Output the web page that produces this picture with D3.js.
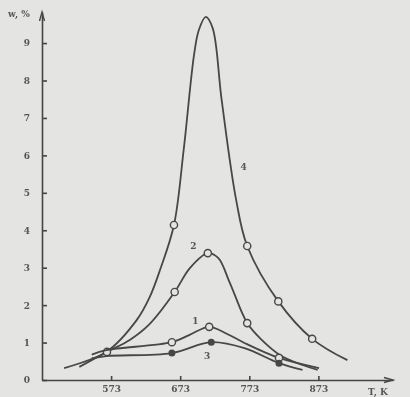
<!DOCTYPE html>
<html>
<head>
<meta charset="utf-8">
<script src="https://cdn.jsdelivr.net/npm/d3@7"></script>
<style>
    html, body { margin: 0; padding: 0; background: #e4e4e2; }
    svg { display: block; }
    .axis text { font-family: 'DejaVu Serif', serif; font-size: 9px; font-weight: bold; fill: #555; }
    .axis path, .axis line { stroke: #444; stroke-width: 1.6; }
</style>
</head>
<body>
<svg width="410" height="397"></svg>
<script>
// temperatures (K) and values, one pair of arrays per curve
const xTicks = [573, 673, 773, 873]
const yTicks = [0, 1, 2, 3, 4, 5, 6, 7, 8, 9]

const curve4T = [505, 566, 610, 629, 644, 664, 678, 693, 700, 710, 720, 733, 754, 770, 815, 864, 915]
const curve4V = [0.32, 0.75, 1.6, 2.22, 2.95, 4.14, 6.14, 8.68, 9.35, 9.7, 9.4, 7.48, 4.81, 3.58, 2.1, 1.1, 0.53]
const curve4MarkT = [664, 770, 815, 864]
const curve4MarkV = [4.14, 3.58, 2.1, 1.1]

const curve2T = [527, 567, 600, 629, 665, 687, 713, 728, 745, 770, 791, 817, 850, 872]
const curve2V = [0.35, 0.75, 1.07, 1.5, 2.35, 2.99, 3.39, 3.26, 2.59, 1.52, 1.07, 0.67, 0.4, 0.27]
const curve2MarkT = [567, 665, 713, 770]
const curve2MarkV = [0.75, 2.35, 3.39, 1.52]

const curve1T = [545, 566, 661, 686, 715, 741, 766, 816, 874]
const curve1V = [0.68, 0.8, 1.01, 1.2, 1.42, 1.23, 0.99, 0.59, 0.32]
const curve1MarkT = [661, 715, 816]
const curve1MarkV = [1.01, 1.42, 0.59]

const curve3T = [545, 566, 661, 718, 766, 816, 850]
const curve3V = [0.58, 0.64, 0.72, 1.01, 0.85, 0.45, 0.27]
const curve3MarkT = [661, 718, 816]
const curve3MarkV = [0.72, 1.01, 0.45]

const curveNames = ['4', '2', '1', '3']
const labelT = [765, 692, 695, 712]
const labelV = [5.6, 3.5, 1.5, 0.55]

const svg = d3.select('svg')
const ink = '#474747'

const x = d3.scaleLinear().domain([473, 981]).range([42, 393])
const y = d3.scaleLinear().domain([0, 9.83]).range([380, 12])

const blur = svg.append('defs').append('filter').attr('id', 'scan')
blur.append('feGaussianBlur').attr('stdDeviation', 0.55)

const root = svg.append('g').attr('filter', 'url(#scan)')

// axes
const xAxis = d3.axisBottom(x).tickValues(xTicks).tickSize(-4).tickPadding(6).tickSizeOuter(0)
root.append('g')
    .attr('class', 'axis')
    .attr('transform', `translate(0, ${y(0)})`)
    .call(xAxis)

const yAxis = d3.axisLeft(y).tickValues(yTicks).tickSize(-5).tickPadding(12).tickSizeOuter(0)
root.append('g')
    .attr('class', 'axis')
    .attr('transform', `translate(${x(473)}, 0)`)
    .call(yAxis)

// arrow heads at the axis ends
root.append('path')
    .attr('d', `M${x(981) - 9},${y(0) - 2.5} L${x(981)},${y(0)} L${x(981) - 9},${y(0) + 2.5}`)
    .attr('fill', 'none').attr('stroke', ink).attr('stroke-width', 1.4)
root.append('path')
    .attr('d', `M${x(473) - 2.5},${y(9.83) + 9} L${x(473)},${y(9.83)} L${x(473) + 2.5},${y(9.83) + 9}`)
    .attr('fill', 'none').attr('stroke', ink).attr('stroke-width', 1.4)

root.append('text')
    .attr('x', 368).attr('y', 395)
    .attr('font-family', 'DejaVu Serif, serif').attr('font-size', 9).attr('font-weight', 'bold')
    .attr('fill', '#555')
    .text('T, K')

root.append('text')
    .attr('x', 8).attr('y', 17)
    .attr('font-family', 'DejaVu Serif, serif').attr('font-size', 9).attr('font-weight', 'bold')
    .attr('fill', '#555')
    .text('w, %')

// curves
const line = d3.line()
    .x((d) => x(d[0]))
    .y((d) => y(d[1]))
    .curve(d3.curveCatmullRom.alpha(0.5))

const series = [
    { t: curve4T, v: curve4V, mt: curve4MarkT, mv: curve4MarkV, filled: false },
    { t: curve2T, v: curve2V, mt: curve2MarkT, mv: curve2MarkV, filled: false },
    { t: curve1T, v: curve1V, mt: curve1MarkT, mv: curve1MarkV, filled: false },
    { t: curve3T, v: curve3V, mt: curve3MarkT, mv: curve3MarkV, filled: true },
]

series.forEach((s, i) => {
    const pts = s.t.map((t, j) => [t, s.v[j]])
    root.append('path')
        .attr('d', line(pts))
        .attr('fill', 'none')
        .attr('stroke', ink)
        .attr('stroke-width', 1.8)

    root.selectAll(null)
        .data(s.mt.map((t, j) => [t, s.mv[j]]))
        .enter()
        .append('circle')
        .attr('cx', (d) => x(d[0]))
        .attr('cy', (d) => y(d[1]))
        .attr('r', s.filled ? 2.8 : 3.6)
        .attr('fill', s.filled ? ink : '#e4e4e2')
        .attr('stroke', ink)
        .attr('stroke-width', 1.4)

    root.append('text')
        .attr('x', x(labelT[i]))
        .attr('y', y(labelV[i]))
        .attr('font-family', 'DejaVu Serif, serif')
        .attr('font-size', 9)
        .attr('font-weight', 'bold')
        .attr('fill', '#555')
        .attr('text-anchor', 'middle')
        .text(curveNames[i])
})
</script>
</body>
</html>
